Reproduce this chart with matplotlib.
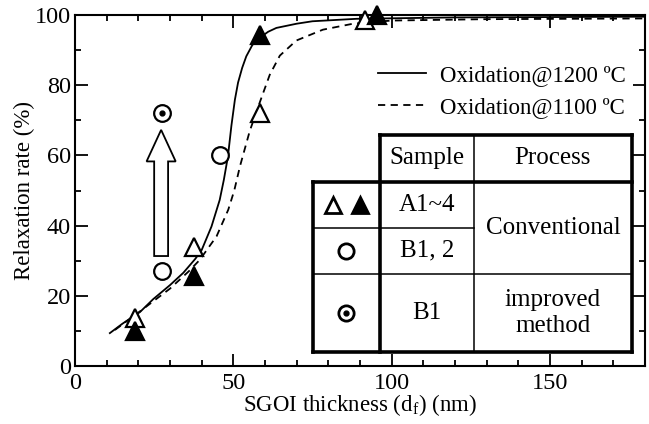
import matplotlib
matplotlib.use("Agg")
import matplotlib.pyplot as plt
import matplotlib.patches as mpatches
from matplotlib.lines import Line2D

plt.rcParams['font.family'] = ['Liberation Serif', 'DejaVu Serif']
plt.rcParams['mathtext.fontset'] = 'custom'
plt.rcParams['mathtext.rm'] = 'Liberation Serif'
plt.rcParams['mathtext.it'] = 'Liberation Serif:italic'

# measured points
tri_1200_x = [19, 37.5, 58.5, 95.5]
tri_1200_y = [10, 25.5, 94.5, 100]
tri_1100_x = [19, 37.5, 58.5, 91.5]
tri_1100_y = [13.5, 34, 72, 98.8]
circ_x = [27.5, 45.7]
circ_y = [27, 60.2]
improved_x = [27.5]
improved_y = [72.2]

# guide curves
fit_1200_x = [11, 15, 20.5, 24.7, 30, 34.2, 38, 40, 43.1, 45.7, 47, 48.3, 49.4, 50.5,
              51.5, 52.8, 54.1, 56, 58.4, 61, 63.6, 70, 75, 88.9, 120, 180]
fit_1200_y = [9.3, 12, 15.3, 19, 23, 26.5, 30.5, 33, 39.7, 47.3, 53, 59.7, 68.5, 75.9,
              80.8, 85, 88.3, 91.5, 93.6, 95.3, 96.4, 97.6, 98.3, 99, 99.4, 99.6]
fit_1100_x = [12.6, 20.5, 30, 36, 39.4, 42, 44.7, 48.4, 50.3, 52.1, 55.2, 58.5, 61.5, 64.7,
              69.9, 78.3, 87.8, 100, 130, 180]
fit_1100_y = [10.2, 15.5, 22, 27, 30.2, 33.5, 36.9, 44.5, 50, 56.9, 67, 75.5, 83, 88.5,
              92.8, 95.9, 97.6, 98.5, 98.9, 99.1]

fig = plt.figure(figsize=(6.49, 4.24), dpi=100)
ax = fig.add_axes([0.1156, 0.1375, 0.878, 0.8264])

ax.plot(fit_1200_x, fit_1200_y, '-', color='black', lw=1.3, label='Oxidation@1200 ºC')
ax.plot(fit_1100_x, fit_1100_y, '--', color='black', lw=1.3, dashes=(4, 3),
        label='Oxidation@1100 ºC')

ms = 13
ax.plot(tri_1100_x, tri_1100_y, '^', ms=ms, mfc='white', mec='black', mew=1.6,
        clip_on=False, zorder=5)
ax.plot(tri_1200_x, tri_1200_y, '^', ms=ms, mfc='black', mec='black', mew=1.6,
        clip_on=False, zorder=5)
ax.plot(circ_x, circ_y, 'o', ms=12, mfc='white', mec='black', mew=1.6, zorder=5)
ax.plot(improved_x, improved_y, 'o', ms=12, mfc='white', mec='black', mew=1.6, zorder=5)
ax.plot(improved_x, improved_y, 'o', ms=3.5, color='black', zorder=6)

# hollow arrow
ax.add_patch(mpatches.FancyArrow(27.2, 31.3, 0, 36, width=4.4, head_width=9.2,
                                 head_length=9, length_includes_head=True,
                                 fc='white', ec='black', lw=1.3, zorder=4))

ax.set_xlim(0, 180)
ax.set_ylim(0, 100)
ax.set_xticks([0, 50, 100, 150])
ax.set_xticks(range(0, 181, 10), minor=True)
ax.set_yticks(range(0, 101, 20))
ax.set_yticks(range(0, 101, 10), minor=True)
ax.tick_params(which='both', direction='in', top=True, right=True, width=1.3,
               labelsize=17.5)
ax.tick_params(which='major', length=9)
ax.tick_params(which='minor', length=4.5)
ax.tick_params(axis='y', pad=3)
ax.tick_params(axis='x', pad=5)
for s in ax.spines.values():
    s.set_linewidth(1.5)

ax.set_xlabel('SGOI thickness (d$_\\mathrm{f}$) (nm)', fontsize=16.5, labelpad=-1)
ax.set_ylabel('Relaxation rate (%)', fontsize=16.5, labelpad=0)

ax.legend(loc='upper right', bbox_to_anchor=(0.966, 0.857), frameon=False,
          fontsize=16.5, handlelength=2.1, handletextpad=0.6, labelspacing=0.45,
          borderaxespad=0, borderpad=0)

# table in data coordinates
xl, xs, xm, xr = 75.2, 96.3, 126.0, 175.9
yt, yh, y1, y2, yb = 65.9, 52.5, 39.3, 26.2, 3.9
ax.add_patch(mpatches.Rectangle((xs, yh), xr - xs, yt - yh, fc='white', ec='none', zorder=7))
ax.add_patch(mpatches.Rectangle((xl, yb), xr - xl, yh - yb, fc='white', ec='none', zorder=7))
thick = 2.6
thin = 1.1
def seg(x0, x1, y0, y1, lw):
    ax.add_line(Line2D([x0, x1], [y0, y1], color='black', lw=lw, zorder=9,
                       solid_capstyle='projecting'))
seg(xs, xr, yt, yt, thick)
seg(xs, xs, yt, yb, thick)
seg(xr, xr, yt, yb, thick)
seg(xl, xr, yh, yh, thick)
seg(xl, xl, yh, yb, thick)
seg(xl, xr, yb, yb, thick)
seg(xm, xm, yt, yb, thin)
seg(xl, xm, y1, y1, thin)
seg(xl, xr, y2, y2, thin)

tfs = 18
cs = (xs + xm) / 2
cp = (xm + xr) / 2
ax.text(cs, (yt + yh) / 2, 'Sample', ha='center', va='center', fontsize=tfs, zorder=10)
ax.text(cp, (yt + yh) / 2, 'Process', ha='center', va='center', fontsize=tfs, zorder=10)
ax.text(cs, (yh + y1) / 2, 'A1~4', ha='center', va='center', fontsize=tfs, zorder=10)
ax.text(cs, (y1 + y2) / 2, 'B1, 2', ha='center', va='center', fontsize=tfs, zorder=10)
ax.text(cs, (y2 + yb) / 2, 'B1', ha='center', va='center', fontsize=tfs, zorder=10)
ax.text(cp, (yh + y2) / 2, 'Conventional', ha='center', va='center', fontsize=tfs, zorder=10)
ax.text(cp, (y2 + yb) / 2, 'improved\nmethod', ha='center', va='center', fontsize=tfs,
        linespacing=1.25, zorder=10)

cx = (xl + xs) / 2
ax.plot([cx - 4.2], [(yh + y1) / 2], '^', ms=12, mfc='white', mec='black', mew=2, zorder=10)
ax.plot([cx + 4.2], [(yh + y1) / 2], '^', ms=12, mfc='black', mec='black', mew=2, zorder=10)
ax.plot([cx], [(y1 + y2) / 2], 'o', ms=11, mfc='white', mec='black', mew=2, zorder=10)
ax.plot([cx], [(y2 + yb) / 2], 'o', ms=11, mfc='white', mec='black', mew=2, zorder=10)
ax.plot([cx], [(y2 + yb) / 2], 'o', ms=3.5, color='black', zorder=11)

plt.savefig('out.png', dpi=100)
